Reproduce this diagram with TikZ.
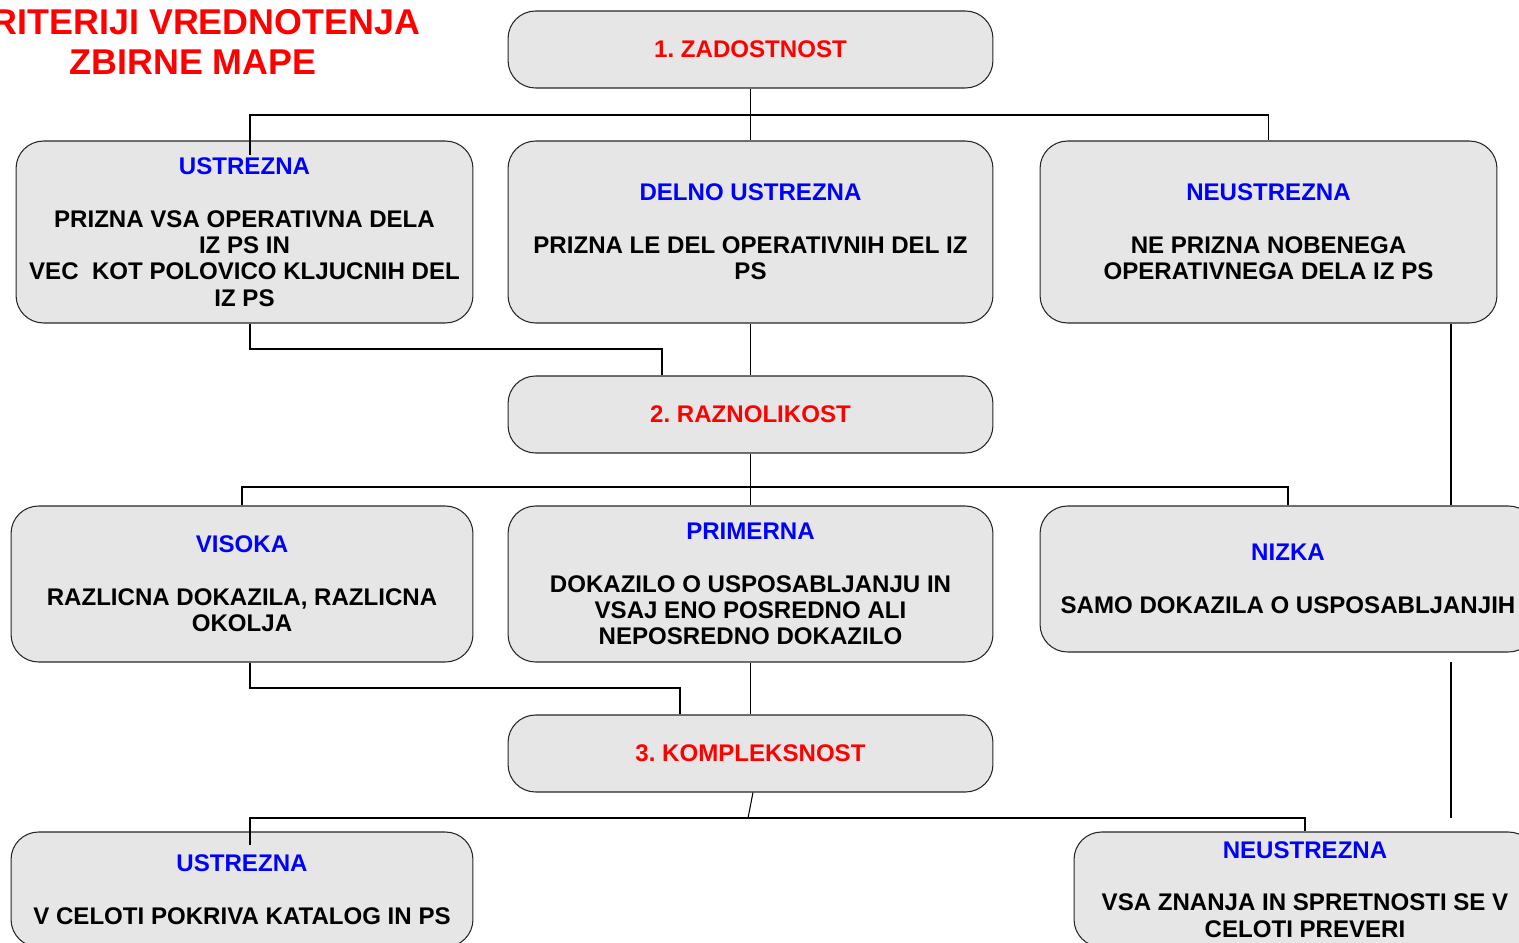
\documentclass[tikz,border=0pt]{standalone}
\usepackage{fontspec}
\setmainfont{Liberation Sans}
\usetikzlibrary{calc}
\definecolor{critred}{RGB}{255,0,0}
\definecolor{optblue}{RGB}{0,0,255}
\definecolor{boxgray}{RGB}{230,230,230}
\frenchspacing

\begin{document}
\begin{tikzpicture}[x=0.02cm, y=-0.02cm,
    box/.style = {draw=black!85, fill=boxgray, line width=0.6pt, rounded corners=0.55cm,
                  inner sep=0pt, align=center, font=\bfseries\fontsize{13.7}{15}\selectfont},
    crit/.style = {box, minimum width=9.7cm, minimum height=1.54cm, text=critred},
    opt/.style = {box, minimum height=3.64cm},
    hd/.style = {text=optblue},
    link/.style = {draw=black, line width=0.6pt}]
    \useasboundingbox (0,0) rectangle (1519,943);

    % title
    \node[text=critred, align=center, font=\bfseries\fontsize{20.4}{22.7}\selectfont] (title) at (193,42)
        {KRITERIJI VREDNOTENJA\\ZBIRNE MAPE};

    % 1. zadostnost
    \node[crit] (z1) at (750.5,49.5) {1. ZADOSTNOST};
    \node[opt, minimum width=9.14cm] (b1) at (244.5,232)
        {\textcolor{optblue}{USTREZNA}\\[15pt]PRIZNA VSA OPERATIVNA DELA\\IZ PS IN\\VEC~~KOT POLOVICO KLJUCNIH DEL\\IZ PS};
    \node[opt, minimum width=9.7cm] (b2) at (750.5,232)
        {\textcolor{optblue}{DELNO USTREZNA}\\[15pt]PRIZNA LE DEL OPERATIVNIH DEL IZ\\PS};
    \node[opt, minimum width=9.14cm] (b3) at (1268.5,232)
        {\textcolor{optblue}{NEUSTREZNA}\\[15pt]NE PRIZNA NOBENEGA\\OPERATIVNEGA DELA IZ PS};

    % 2. raznolikost
    \node[crit] (z2) at (750.5,414.5) {2. RAZNOLIKOST};
    \node[box, minimum width=9.24cm, minimum height=3.12cm] (c1) at (242,584)
        {\textcolor{optblue}{VISOKA}\\[15pt]RAZLICNA DOKAZILA, RAZLICNA\\OKOLJA};
    \node[box, minimum width=9.7cm, minimum height=3.12cm] (c2) at (750.5,584)
        {\textcolor{optblue}{PRIMERNA}\\[15pt]DOKAZILO O USPOSABLJANJU IN\\VSAJ ENO POSREDNO ALI\\NEPOSREDNO DOKAZILO};
    \node[box, minimum width=9.92cm, minimum height=2.92cm] (c3) at (1288,579)
        {\textcolor{optblue}{NIZKA}\\[15pt]SAMO DOKAZILA O USPOSABLJANJIH};

    % 3. kompleksnost
    \node[crit] (z3) at (750.5,753.5) {3. KOMPLEKSNOST};
    \node[box, minimum width=9.24cm, minimum height=2.3cm] (d1) at (242,889.5)
        {\textcolor{optblue}{USTREZNA}\\[15pt]V CELOTI POKRIVA KATALOG IN PS};
    \node[box, minimum width=9.24cm, minimum height=2.3cm] (d2) at (1305,889.5)
        {\textcolor{optblue}{NEUSTREZNA}\\[15pt]VSA ZNANJA IN SPRETNOSTI SE V\\CELOTI PREVERI};

    % joints
    \coordinate (t1) at (250,155);
    \coordinate (j1) at (750,115);
    \coordinate (j2) at (662,349);
    \coordinate (j3) at (750,487);
    \coordinate (j4) at (680,688);
    \coordinate (j5) at (748,818);
    \coordinate (t2) at (250,845);
    \coordinate (r1) at (1451,415);
    \coordinate (r2) at (1451,662);
    \coordinate (r3) at (1451,818);

    \draw[link] (z1) -- (b2);
    \draw[link] (t1) |- (j1) -| (b3.north);
    \draw[link] (t1 |- b1.south) |- (j2) -- (j2 |- z2.north);
    \draw[link] (b2) -- (z2);
    \draw[link] (r1 |- b3.south) -- (r1 |- c3.north);
    \draw[link] (z2) -- (c2);
    \draw[link] (c1.north) |- (j3) -| (c3.north);
    \draw[link] (t1 |- c1.south) |- (j4) -- (j4 |- z3.north);
    \draw[link] (c2) -- (z3);
    \draw[link] (r2) -- (r3);
    \draw[link] ($(z3.south)+(2.5,0)$) -- (j5);
    \draw[link] (t2) |- (j5) -| (d2.north);
\end{tikzpicture}
\end{document}
